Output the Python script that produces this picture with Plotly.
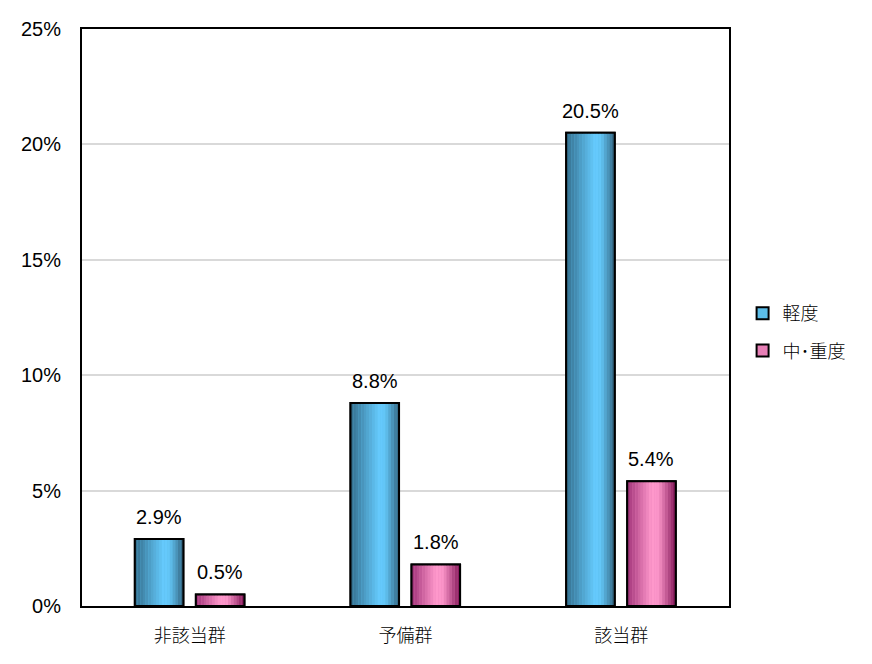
import plotly.graph_objects as go

categories = ["非該当群", "予備群", "該当群"]
series_names = ["軽度", "中･重度"]
mild = [2.9, 8.8, 20.5]
moderate = [0.5, 1.8, 5.4]
y_ticks = [0, 5, 10, 15, 20, 25]
y_tick_labels = ["0%", "5%", "10%", "15%", "20%", "25%"]

values = [mild, moderate]
# style: bar offsets/widths in category units
offsets = [-0.255, 0.028]
widths = [0.225, 0.225]
stops = [
    [(0.0, (52, 110, 140)), (0.6, (102, 204, 255)), (0.72, (98, 196, 245)), (1.0, (50, 98, 125))],
    [(0.0, (160, 50, 120)), (0.5, (255, 153, 204)), (0.65, (250, 148, 200)), (1.0, (128, 20, 85))],
]
legend_colors = ["#5bbde8", "#e77fb6"]

def interp(st, t):
    for (t0, c0), (t1, c1) in zip(st[:-1], st[1:]):
        if t0 <= t <= t1:
            f = (t - t0) / (t1 - t0) if t1 > t0 else 0
            return "rgb(%d,%d,%d)" % tuple(round(a + (b - a) * f) for a, b in zip(c0, c1))
    c = st[-1][1]
    return "rgb(%d,%d,%d)" % c

x = list(range(len(categories)))
fig = go.Figure()
N = 18
annotations = []
for s in range(2):
    fig.add_trace(go.Bar(x=x, y=values[s], offset=offsets[s], width=widths[s],
                         name=series_names[s], legendgroup=series_names[s],
                         marker=dict(color=legend_colors[s], line=dict(color="black", width=2)),
                         hoverinfo="skip"))
    for i in range(N):
        t = (i + 0.5) / N
        fig.add_trace(go.Bar(x=x, y=values[s], offset=offsets[s] + i * widths[s] / N,
                             width=widths[s] / N * 1.02, showlegend=False,
                             marker=dict(color=interp(stops[s], t), line=dict(width=0)),
                             hoverinfo="skip"))
    fig.add_trace(go.Bar(x=x, y=values[s], offset=offsets[s], width=widths[s],
                         showlegend=False, hoverinfo="skip",
                         marker=dict(color="rgba(0,0,0,0)", line=dict(color="black", width=2))))
    for xi, v in zip(x, values[s]):
        annotations.append(dict(x=xi + offsets[s] + widths[s] / 2, y=v, xref="x", yref="y",
                                text="%.1f%%" % v, showarrow=False, yanchor="bottom",
                                yshift=9, font=dict(size=20, color="black",
                                                    family="Liberation Sans, Arial")))

fig.update_layout(
    width=856, height=648,
    barmode="overlay",
    plot_bgcolor="white", paper_bgcolor="white",
    margin=dict(l=74, r=135, t=21, b=50, autoexpand=False),
    font=dict(family="Liberation Sans, Arial", size=20, color="black"),
    annotations=annotations,
    legend=dict(x=1.021, y=0.475, yanchor="middle", xanchor="left",
                font=dict(family="Noto Sans CJK JP", size=18, color="black", weight=300),
                tracegroupgap=11, itemwidth=30),
    xaxis=dict(tickvals=x, ticktext=categories, range=[-0.5, 2.5], automargin=False,
               showline=True, linecolor="black", linewidth=2, mirror=True,
               ticks="", showgrid=False, zeroline=False,
               tickfont=dict(family="Noto Sans CJK JP", size=18, color="black", weight=300),
               ticklabelstandoff=12),
    yaxis=dict(range=[0, 25], tickvals=y_ticks, ticktext=y_tick_labels, automargin=False,
               showline=True, linecolor="black", linewidth=2, mirror=True,
               showgrid=True, gridcolor="#d9d9d9", gridwidth=1.5, zeroline=False,
               ticks="", ticklabelstandoff=15,
               tickfont=dict(family="Liberation Sans, Arial", size=20, color="black")),
)
fig.write_html("out.html")
